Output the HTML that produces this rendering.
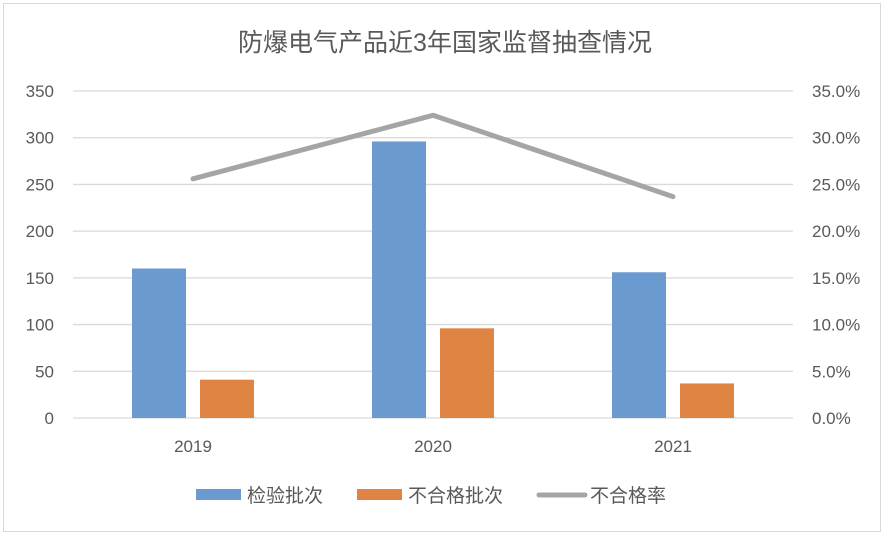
<!DOCTYPE html>
<html><head><meta charset="utf-8"><style>
body{margin:0;background:#fff;}
svg text{font-family:"Liberation Sans","Noto Sans CJK SC",sans-serif;}
</style></head><body>
<svg id="chart" width="886" height="536" xmlns="http://www.w3.org/2000/svg">
<rect x="3.5" y="3.5" width="877" height="528" fill="#fff" stroke="#d9d9d9"/>
<text x="445" y="51" text-anchor="middle" font-size="25" fill="#595959">防爆电气产品近3年国家监督抽查情况</text>
<g id="grid"></g><g id="bars"></g><g id="line"></g><g id="axes"></g>
<g>
<rect x="196" y="489" width="45" height="11" fill="#6a9ad0"/>
<text x="247" y="502" font-size="19" fill="#595959">检验批次</text>
<rect x="357" y="489" width="45" height="11" fill="#e08443"/>
<text x="408" y="502" font-size="19" fill="#595959">不合格批次</text>
<line x1="539" y1="495" x2="585" y2="495" stroke="#a5a5a5" stroke-width="5" stroke-linecap="round"/>
<text x="590" y="502" font-size="19" fill="#595959">不合格率</text>
</g>
</svg>
<script>
const categories=["2019","2020","2021"];
const inspected=[160,296,156];
const failed=[41,96,37];
const rate=[25.6,32.4,23.7];
const leftTicks=[0,50,100,150,200,250,300,350];
const rightTicks=["0.0%","5.0%","10.0%","15.0%","20.0%","25.0%","30.0%","35.0%"];
const NS="http://www.w3.org/2000/svg";
const X0=73,X1=793,Y0=418,Y1=91;
const yL=v=>Y0-(v/350)*(Y0-Y1);
const yR=v=>Y0-(v/35)*(Y0-Y1);
const bw=(X1-X0)/categories.length;
const cx=i=>X0+bw*(i+0.5);
function mk(tag,attrs,parent,txt){const e=document.createElementNS(NS,tag);for(const k in attrs)e.setAttribute(k,attrs[k]);if(txt!==undefined)e.textContent=txt;document.getElementById(parent).appendChild(e);return e;}
leftTicks.forEach((t,i)=>{
 const y=yL(t);
 const g=mk('line',{x1:X0,x2:X1,y1:y,y2:y,stroke:'#d9d9d9','stroke-width':1.3},'grid');
 
 
 const l=mk('text',{x:54,y:y+6,'text-anchor':'end','font-size':17,fill:'#595959'},'axes',String(t));
 
 
 const r=mk('text',{x:812,y:y+6,'font-size':17,fill:'#595959'},'axes',rightTicks[i]);
 
 
});
categories.forEach((c,i)=>{
 const b1=mk('rect',{x:cx(i)-61,y:yL(inspected[i]),width:54,height:Y0-yL(inspected[i]),fill:'#6a9ad0'},'bars');
 
 
 const b2=mk('rect',{x:cx(i)+7,y:yL(failed[i]),width:54,height:Y0-yL(failed[i]),fill:'#e08443'},'bars');
 
 
 const t=mk('text',{x:cx(i),y:452,'text-anchor':'middle','font-size':17,fill:'#595959'},'axes',c);
 
 
});
const pts=rate.map((v,i)=>cx(i)+','+yR(v)).join(' ');
const pl=mk('polyline',{points:pts,fill:'none',stroke:'#a5a5a5','stroke-width':5,'stroke-linecap':'round','stroke-linejoin':'round'},'line');


</script>
</body></html>
